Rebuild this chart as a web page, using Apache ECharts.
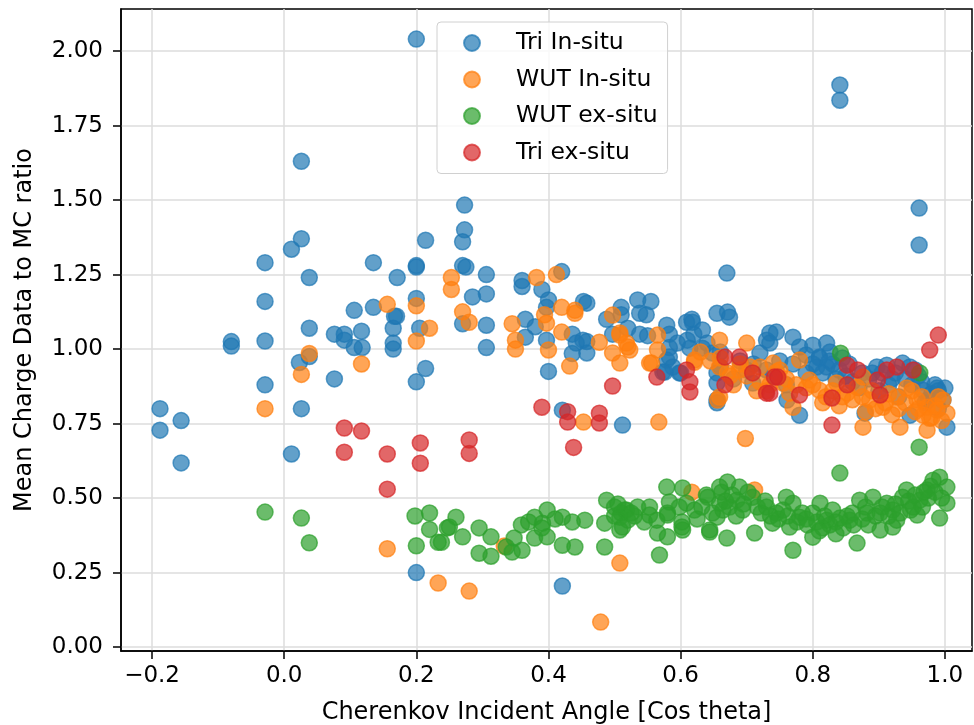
<!DOCTYPE html>
<html>
<head>
<meta charset="utf-8">
<script src="https://cdn.jsdelivr.net/npm/echarts@6/dist/echarts.min.js"></script>
<style>
html,body{margin:0;padding:0;background:#fff;}
#main{width:974px;height:725px;}
</style>
</head>
<body>
<div id="main"></div>
<script>
// tick labels
var xTicks=[-0.2,0.0,0.2,0.4,0.6,0.8,1.0];
var yTicks=[0,0.25,0.5,0.75,1.0,1.25,1.5,1.75,2.0];

// Tri In-situ
var triInSitu=[
 [-0.188,0.80],[-0.188,0.728],[-0.156,0.76],[-0.156,0.618],
 [-0.08,1.025],[-0.08,1.01],
 [-0.029,1.29],[-0.029,1.16],[-0.029,1.027],[-0.029,0.88],
 [0.011,1.335],[0.011,0.648],
 [0.026,1.63],[0.026,1.37],[0.023,0.955],[0.026,0.80],
 [0.038,1.24],[0.038,1.07],[0.038,0.975],
 [0.076,1.05],[0.091,1.05],[0.091,1.03],[0.076,0.90],
 [0.106,1.13],[0.106,1.005],[0.118,1.005],[0.117,1.06],
 [0.135,1.29],[0.135,1.14],
 [0.165,1.07],[0.165,1.02],[0.165,1.00],[0.17,1.11],[0.171,1.24],[0.167,1.11],
 [0.2,2.04],[0.2,1.275],[0.2,1.28],[0.2,1.17],[0.2,0.89],[0.2,0.25],[0.205,1.07],
 [0.214,1.365],[0.214,0.935],
 [0.273,1.483],[0.273,1.40],[0.27,1.36],[0.27,1.28],[0.275,1.275],
 [0.306,1.25],[0.285,1.175],[0.306,1.185],[0.27,1.085],[0.306,1.08],[0.306,1.005],
 [0.36,1.23],[0.36,1.21],[0.39,1.20],[0.4,1.165],[0.397,1.14],[0.42,1.26],[0.453,1.16],
 [0.365,1.10],[0.365,1.04],[0.38,1.075],[0.397,1.03],[0.436,1.05],[0.442,1.02],[0.458,1.025],[0.436,0.985],[0.40,0.925],
 [0.458,1.154],[0.452,1.03],[0.458,0.987],
 [0.488,1.10],[0.51,1.14],[0.51,1.115],[0.535,1.165],[0.555,1.16],[0.548,1.115],[0.538,1.12],
 [0.497,1.05],[0.52,1.07],[0.538,1.05],[0.55,1.045],
 [0.579,1.08],[0.583,1.05],[0.583,1.005],[0.579,0.963],[0.573,0.923],[0.595,1.02],
 [0.583,0.973],[0.588,0.94],[0.576,0.923],[0.598,0.92],
 [0.61,1.03],[0.617,1.10],[0.633,1.064],[0.60,0.92],[0.609,1.09],[0.618,1.09],[0.614,1.003],
 [0.633,1.003],[0.648,0.987],[0.655,0.92],[0.655,0.886],[0.655,0.83],[0.655,0.82],
 [0.655,1.12],[0.671,1.124],[0.674,1.107],[0.67,1.255],
 [0.709,0.886],[0.73,1.03],[0.745,1.057],[0.72,0.987],[0.735,1.054],[0.735,1.02],
 [0.77,1.04],[0.78,1.007],[0.80,1.013],[0.821,1.02],[0.826,0.99],
 [0.81,0.973],[0.821,0.94],[0.806,0.94],
 [0.897,0.94],[0.912,0.946],[0.936,0.953],[0.947,0.94],
 [0.967,0.862],[0.988,0.869],[1.0,0.869],[0.997,0.829],[1.003,0.738],
 [0.78,0.778],[0.761,0.829],[0.879,0.785],[0.947,0.778],
 [0.84,0.93],[0.85,0.91],[0.83,0.95],[0.86,0.89],[0.87,0.87],[0.89,0.92],[0.92,0.90],
 [0.95,0.88],[0.96,0.91],[0.98,0.85],[0.99,0.80],[0.975,0.83],[0.93,0.84],[0.90,0.86],
 [0.70,0.93],[0.68,0.90],[0.66,0.94],[0.74,0.91],[0.76,0.88],[0.79,0.92],[0.81,0.97],
 [0.62,1.05],[0.64,1.02],[0.66,0.99],[0.69,0.96],[0.71,0.95],[0.73,0.93],[0.75,0.96],
 [0.77,0.95],[0.79,0.98],[0.80,0.95],[0.815,0.92],[0.825,0.96],[0.835,0.90],[0.845,0.97],
 [0.855,0.95],[0.875,0.92],[0.885,0.90],[0.905,0.92],[0.915,0.88],[0.925,0.92],[0.94,0.90],
 [0.955,0.93],[0.965,0.89],[0.985,0.88],[0.97,0.82],[0.99,0.86],
 [0.841,1.886],[0.841,1.835],[0.961,1.473],[0.961,1.349],
 [0.421,0.795],[0.512,0.745],[0.421,0.205]
];

// WUT In-situ
var wutInSitu=[
 [-0.029,0.80],[0.026,0.915],[0.038,0.985],[0.117,0.95],[0.156,1.15],[0.156,0.33],
 [0.2,1.145],[0.2,1.027],[0.22,1.07],[0.233,0.215],[0.253,1.24],[0.253,1.20],
 [0.27,1.125],[0.28,1.09],[0.28,0.188],
 [0.345,1.085],[0.35,1.03],[0.35,1.0],[0.382,1.24],[0.412,1.25],[0.394,1.115],[0.397,1.087],
 [0.42,1.14],[0.44,1.13],[0.44,1.12],[0.42,1.057],[0.40,0.997],[0.432,0.943],
 [0.477,1.023],[0.497,1.114],[0.497,0.987],[0.508,0.953],[0.508,1.047],[0.52,1.007],
 [0.518,1.02],[0.523,0.997],[0.508,1.054],
 [0.553,0.953],[0.565,1.047],[0.565,0.997],[0.556,0.953],[0.621,0.956],[0.621,0.963],
 [0.453,0.755],[0.567,0.755],[0.333,0.339],[0.508,0.282],[0.479,0.084],
 [0.617,0.52],[0.712,0.527],[0.698,0.70],
 [0.659,1.03],[0.70,1.02],[0.659,0.94],[0.671,0.92],[0.689,0.93],[0.72,0.94],[0.659,0.839],
 [0.74,0.953],[0.745,0.923],[0.755,0.886],[0.765,0.852],[0.78,0.963],
 [0.795,0.896],[0.81,0.862],[0.836,0.886],[0.852,0.852],[0.867,0.872],[0.876,0.906],
 [0.886,0.829],[0.906,0.805],[0.927,0.839],[0.942,0.869],[0.958,0.829],[0.973,0.805],
 [0.988,0.795],[0.997,0.829],[0.77,0.805],[0.876,0.738],[0.932,0.738],[0.973,0.728],
 [1.003,0.785],[0.967,0.778],[0.977,0.768],
 [0.66,0.97],[0.68,0.88],[0.70,0.91],[0.72,0.89],[0.73,0.86],[0.69,0.95],[0.75,0.93],
 [0.79,0.87],[0.82,0.84],[0.84,0.81],[0.86,0.83],[0.89,0.86],[0.91,0.82],[0.93,0.80],
 [0.95,0.86],[0.96,0.80],[0.98,0.77],[0.99,0.84],[0.656,0.829],
 [0.63,0.99],[0.645,0.96],[0.675,0.91],[0.705,0.94],[0.715,0.86],[0.735,0.88],[0.76,0.90],
 [0.775,0.88],[0.80,0.88],[0.815,0.82],[0.83,0.86],[0.845,0.84],[0.875,0.84],[0.895,0.80],
 [0.915,0.85],[0.94,0.82],[0.955,0.79],[0.965,0.84],[0.985,0.81],[0.995,0.76],[0.92,0.78],[0.88,0.79]
];

// WUT ex-situ
var wutExSitu=[
 [-0.029,0.453],[0.026,0.433],[0.038,0.35],[0.198,0.44],[0.2,0.34],[0.22,0.45],[0.22,0.395],
 [0.233,0.352],[0.247,0.40],[0.26,0.436],[0.25,0.403],[0.238,0.352],[0.27,0.37],
 [0.295,0.40],[0.295,0.315],[0.313,0.305],[0.313,0.37],[0.336,0.336],[0.348,0.366],
 [0.345,0.319],[0.36,0.325],[0.359,0.41],[0.379,0.436],[0.379,0.366],[0.391,0.416],
 [0.398,0.46],[0.398,0.37],[0.421,0.436],[0.421,0.342],[0.436,0.42],[0.44,0.336],
 [0.455,0.426],[0.39,0.40],[0.41,0.43],[0.37,0.42],
 [0.488,0.493],[0.485,0.416],[0.485,0.336],[0.50,0.47],[0.508,0.436],[0.515,0.46],
 [0.52,0.426],[0.508,0.393],[0.51,0.45],[0.53,0.44],[0.50,0.44],[0.518,0.46],[0.512,0.403],
 [0.525,0.45],[0.505,0.48],[0.535,0.47],[0.545,0.42],
 [0.553,0.47],[0.553,0.443],[0.564,0.426],[0.565,0.383],[0.58,0.37],[0.568,0.309],
 [0.579,0.537],[0.583,0.487],[0.58,0.45],[0.603,0.534],[0.609,0.483],[0.602,0.42],
 [0.603,0.393],[0.621,0.46],[0.639,0.51],[0.644,0.393],[0.58,0.443],[0.598,0.47],[0.602,0.403],
 [0.641,0.503],[0.659,0.537],[0.671,0.554],[0.689,0.537],[0.659,0.483],[0.674,0.47],
 [0.694,0.46],[0.709,0.503],[0.655,0.436],[0.664,0.46],[0.685,0.493],
 [0.644,0.386],[0.67,0.366],[0.712,0.383],
 [0.73,0.47],[0.745,0.45],[0.76,0.503],[0.77,0.483],[0.739,0.416],[0.765,0.403],
 [0.78,0.436],[0.80,0.45],[0.811,0.483],[0.821,0.426],[0.83,0.46],[0.841,0.433],
 [0.856,0.426],[0.80,0.369],[0.77,0.325],[0.867,0.349],[0.841,0.584],
 [0.871,0.493],[0.891,0.503],[0.882,0.45],[0.902,0.45],[0.912,0.483],[0.921,0.46],
 [0.936,0.503],[0.942,0.527],[0.927,0.426],[0.952,0.47],[0.962,0.493],[0.973,0.527],
 [0.982,0.56],[0.992,0.57],[1.003,0.537],[1.003,0.483],[0.992,0.433],[0.958,0.443],
 [0.902,0.393],[0.921,0.403],
 [0.625,0.43],[0.632,0.47],[0.648,0.45],[0.662,0.52],[0.668,0.49],[0.678,0.51],[0.684,0.44],
 [0.695,0.48],[0.702,0.52],[0.716,0.47],[0.722,0.45],[0.728,0.49],[0.736,0.44],[0.748,0.43],
 [0.755,0.46],[0.762,0.44],[0.776,0.42],[0.784,0.45],[0.792,0.41],[0.806,0.42],[0.815,0.40],
 [0.818,0.44],[0.826,0.41],[0.835,0.42],[0.846,0.40],[0.852,0.44],[0.862,0.41],[0.875,0.43],
 [0.884,0.41],[0.895,0.44],[0.905,0.47],[0.915,0.44],[0.925,0.48],[0.932,0.45],[0.945,0.49],
 [0.948,0.46],[0.955,0.51],[0.966,0.47],[0.975,0.50],[0.985,0.52],[0.995,0.50],[0.978,0.54],
 [0.968,0.52],[0.81,0.39],[0.835,0.38],[0.79,0.43],[0.86,0.45],[0.88,0.47],
 [0.842,0.986],[0.962,0.92],[0.961,0.671]
];

// Tri ex-situ
var triExSitu=[
 [0.091,0.735],[0.117,0.725],[0.091,0.654],[0.156,0.648],[0.206,0.685],[0.206,0.617],
 [0.156,0.53],[0.28,0.695],[0.28,0.65],
 [0.39,0.805],[0.429,0.79],[0.429,0.755],[0.477,0.785],[0.477,0.752],[0.497,0.876],
 [0.438,0.67],[0.564,0.906],[0.609,0.93],[0.614,0.89],[0.614,0.856],
 [0.667,0.973],[0.689,0.973],[0.667,0.88],[0.709,0.92],[0.742,0.906],[0.73,0.852],
 [0.747,0.906],[0.78,0.846],[0.829,0.836],[0.852,0.946],[0.868,0.93],[0.852,0.88],
 [0.898,0.896],[0.902,0.846],[0.912,0.93],[0.927,0.94],[0.952,0.93],
 [0.977,0.997],[0.99,1.047],[0.829,0.745],[0.735,0.852]
];

var colors=['#1f77b4','#ff7f0e','#2ca02c','#d62728'];
var font='DejaVu Sans';

var chart=echarts.init(document.getElementById('main'),null,{renderer:'canvas'});

function mkSeries(name,data,color){
    return {
        name:name,
        type:'scatter',
        data:data,
        symbol:'circle',
        symbolSize:16,
        itemStyle:{color:color,opacity:0.7,borderColor:color,borderWidth:1.5},
        emphasis:{disabled:true}
    };
}

var option={
    animation:false,
    backgroundColor:'#fff',
    grid:{left:121,right:2,top:9,bottom:74,outerBoundsMode:'none',containLabel:false,
        show:true,borderColor:'#000',borderWidth:1.5,backgroundColor:'transparent'},
    legend:{
        left:437,top:22,orient:'vertical',
        icon:'circle',itemWidth:16,itemHeight:16,itemGap:9.5,
        padding:[7.5,10,7.5,26],
        backgroundColor:'rgba(255,255,255,0.8)',
        borderColor:'#d0d0d0',borderWidth:1,borderRadius:4,
        textStyle:{fontFamily:font,fontSize:23.5,color:'#000',lineHeight:27,padding:[0,0,0,31]},
        data:['Tri In-situ','WUT In-situ','WUT ex-situ','Tri ex-situ']
    },
    xAxis:{
        type:'value',min:-0.247,max:1.041,
        name:'Cherenkov Incident Angle [Cos theta]',nameLocation:'middle',nameGap:50,
        nameTextStyle:{fontFamily:font,fontSize:24,color:'#000'},
        axisLine:{show:true,onZero:false,lineStyle:{color:'#000',width:1.5}},
        axisTick:{show:true,customValues:xTicks,length:8,lineStyle:{color:'#000',width:1.5}},
        axisLabel:{customValues:xTicks,fontFamily:font,fontSize:23,color:'#000',margin:14,
            formatter:function(v){return v.toFixed(1).replace('-','\u2212');}},
        splitLine:{show:true,lineStyle:{color:'#dcdcdc',width:1.5}}
    },
    yAxis:{
        type:'value',min:-0.013,max:2.141,
        name:'Mean Charge Data to MC ratio',nameLocation:'middle',nameRotate:90,nameGap:84,
        nameTextStyle:{fontFamily:font,fontSize:24,color:'#000'},
        axisLine:{show:true,onZero:false,lineStyle:{color:'#000',width:1.5}},
        axisTick:{show:true,customValues:yTicks,length:8,lineStyle:{color:'#000',width:1.5}},
        axisLabel:{customValues:yTicks,fontFamily:font,fontSize:23,color:'#000',margin:18,
            formatter:function(v){return v.toFixed(2);}},
        splitLine:{show:true,lineStyle:{color:'#dcdcdc',width:1.5}}
    },
    series:[
        mkSeries('Tri In-situ',triInSitu,colors[0]),
        mkSeries('WUT In-situ',wutInSitu,colors[1]),
        mkSeries('WUT ex-situ',wutExSitu,colors[2]),
        mkSeries('Tri ex-situ',triExSitu,colors[3])
    ]
};
chart.setOption(option);
</script>
</body>
</html>
